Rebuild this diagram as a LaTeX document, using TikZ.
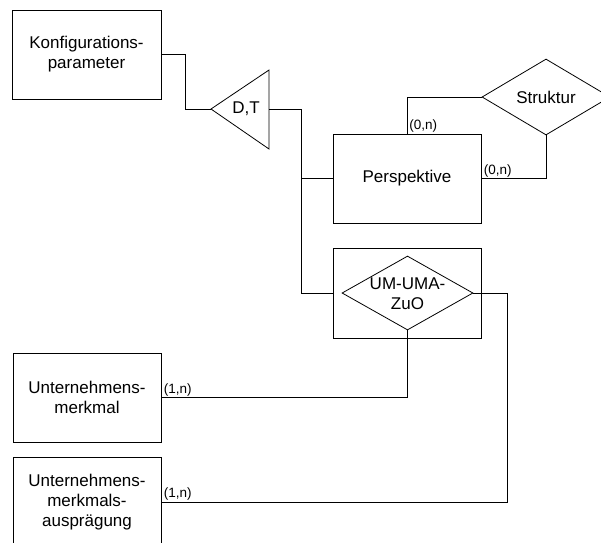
\documentclass[tikz,border=0pt]{standalone}
\usepackage{fontspec}
\setmainfont{Liberation Sans}
\usetikzlibrary{shapes.geometric}
\tikzset{
  ent/.style={draw, line width=0.8pt, rectangle, inner sep=0pt, minimum width=148pt, minimum height=89pt, align=center, font=\fontsize{17}{20}\selectfont},
  rel/.style={draw, line width=0.8pt, diamond, inner sep=0pt, aspect=1},
  reltext/.style={align=center, font=\fontsize{17}{20}\selectfont, inner sep=0pt},
  conn/.style={line width=0.8pt},
  card/.style={font=\fontsize{13.5}{15}\selectfont, inner sep=1.2pt, anchor=south west}
}
\begin{document}
\begin{tikzpicture}[x=1pt, y=-1pt]
\useasboundingbox (0,0) rectangle (601,542);
\clip (0,0) rectangle (601,542);
\fill[white] (0,0) rectangle (601,542);
% entities
\node[ent, minimum width=149pt] (konf) at (86.5,54.5) {Konfigurations-\\parameter};
\node[ent] (persp) at (407,178.5) {Perspektive};
\node[ent, minimum height=90pt] (zbox) at (407,293) {};
\node[ent] (um) at (87,397.5) {Unternehmens-\\merkmal};
\node[ent, minimum height=90pt] (uma) at (87,502) {Unternehmens-\\merkmals-\\ausprägung};
% relationships
\node[rel, minimum width=128pt, minimum height=76pt] (strukt) at (546,97) {};
\node[reltext] (struktt) at (strukt.center) {Struktur};
\node[rel, minimum width=131pt, minimum height=74pt] (zuo) at (407.5,293) {};
\node[reltext] (zuot) at (407.5,294) {UM-UMA-\\ZuO};
% triangle D,T
\coordinate (tip) at (211,109);
\coordinate (ttop) at (269,70);
\coordinate (tbot) at (269,149);
\coordinate (teast) at (269,109);
\draw[conn] (tip) -- (ttop) -- (tbot) -- cycle;
\node[reltext] (dt) at (246,109) {D,T};
% connectors
\draw[conn] (konf.east) -- ++(24,0) |- (tip);
\draw[conn] (teast) -- ++(32,0) |- (zbox.west);
\draw[conn] (persp.west) -- ++(-32,0);
\draw[conn] (persp.north) |- (strukt.west);
\draw[conn] (strukt.south) |- (persp.east);
\draw[conn] (zuo.south) |- (um.east);
\draw[conn] (zuo.east) -- ++(34,0) |- (uma.east);
% cardinalities
\node[card] (c1) at ([xshift=1pt]persp.north) {(0,n)};
\node[card] (c2) at ([xshift=1pt]persp.east) {(0,n)};
\node[card] (c3) at ([xshift=1pt]um.east) {(1,n)};
\node[card] (c4) at ([xshift=1pt]uma.east) {(1,n)};
\end{tikzpicture}
\end{document}
